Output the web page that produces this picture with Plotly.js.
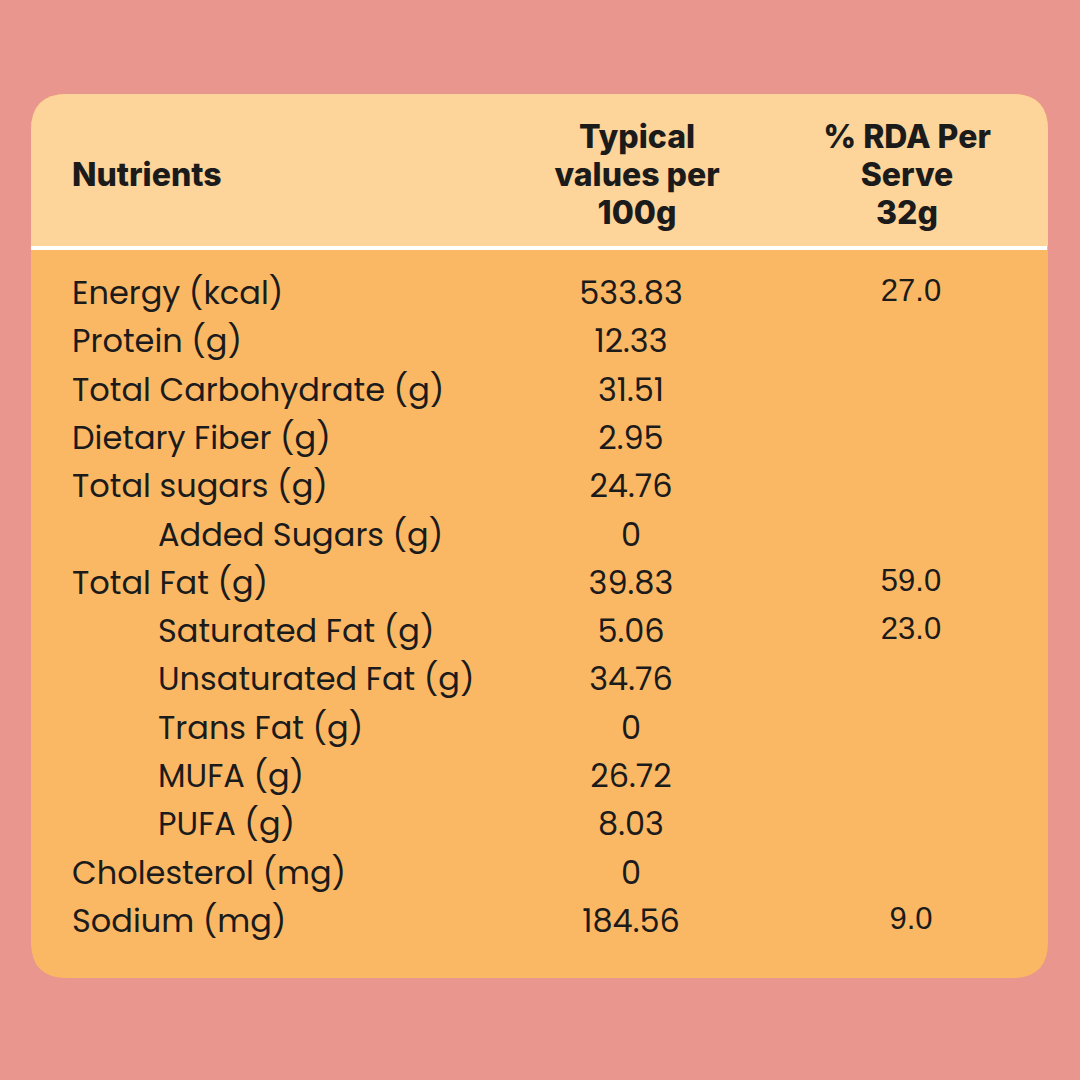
<!DOCTYPE html>
<html>
<head>
<meta charset="utf-8">
<script src="https://cdn.plot.ly/plotly-3.0.1.min.js"></script>
<style>html,body{margin:0;padding:0;background:#E9968F;}#chart{width:1080px;height:1080px;}</style>
</head>
<body>
<div id="chart"></div>
<script>
// ---- data ----
const headerNutrient = "Nutrients";
const headerTypical = ["Typical", "values per", "100g"];
const headerRDA = ["% RDA Per", "Serve", "32g"];
const nutrients = ["Energy (kcal)", "Protein (g)", "Total Carbohydrate (g)", "Dietary Fiber (g)", "Total sugars (g)", "Added Sugars (g)", "Total Fat (g)", "Saturated Fat (g)", "Unsaturated Fat (g)", "Trans Fat (g)", "MUFA (g)", "PUFA (g)", "Cholesterol (mg)", "Sodium (mg)"];
const indentLevel = [0, 0, 0, 0, 0, 1, 0, 1, 1, 1, 1, 1, 0, 0];
const typicalValues = ["533.83", "12.33", "31.51", "2.95", "24.76", "0", "39.83", "5.06", "34.76", "0", "26.72", "8.03", "0", "184.56"];
const rdaValues = ["27.0", "", "", "", "", "", "59.0", "23.0", "", "", "", "", "", "9.0"];

// ---- layout helpers ----
const W = 1080, H = 1080;
const row0 = 296, rowStep = 48.3;
const rowY = nutrients.map((_, i) => row0 + i * rowStep);
const labelX = indentLevel.map(l => l ? 158 : 72);
const colTypX = 631, colRdaX = 911;
const hdrY = [140, 178, 216];
const ink = "#1b1b1b";
const bodyFont = "Poppins, 'Open Sans', sans-serif";
const hdrFont = { family: "Inter, sans-serif", size: 32, color: ink, weight: 800 };

const traces = [
  { type: "scatter", mode: "text", x: labelX, y: rowY, text: nutrients,
    textposition: "middle right", textfont: { family: bodyFont, size: 32, color: ink },
    hoverinfo: "skip", showlegend: false },
  { type: "scatter", mode: "text", x: typicalValues.map(() => colTypX), y: rowY, text: typicalValues,
    textposition: "middle center", textfont: { family: bodyFont, size: 32, color: ink },
    hoverinfo: "skip", showlegend: false },
  { type: "scatter", mode: "text", x: rdaValues.map(() => colRdaX), y: rowY.map(v => v - 3), text: rdaValues,
    textposition: "middle center", textfont: { family: "'Liberation Sans', Arial, sans-serif", size: 31, color: ink },
    hoverinfo: "skip", showlegend: false },
  { type: "scatter", mode: "text", x: [72], y: [hdrY[1]], text: [headerNutrient],
    textposition: "middle right", textfont: hdrFont,
    hoverinfo: "skip", showlegend: false },
  { type: "scatter", mode: "text", x: headerTypical.map(() => 637), y: hdrY, text: headerTypical,
    textposition: "middle center", textfont: hdrFont,
    hoverinfo: "skip", showlegend: false },
  { type: "scatter", mode: "text", x: headerRDA.map(() => 907), y: hdrY, text: headerRDA,
    textposition: "middle center", textfont: hdrFont,
    hoverinfo: "skip", showlegend: false }
];

function roundRect(x0, y0, x1, y1, r, topOnly) {
  let p = `M${x0 + r},${y0} L${x1 - r},${y0} Q${x1},${y0} ${x1},${y0 + r} `;
  if (topOnly) {
    p += `L${x1},${y1} L${x0},${y1} `;
  } else {
    p += `L${x1},${y1 - r} Q${x1},${y1} ${x1 - r},${y1} L${x0 + r},${y1} Q${x0},${y1} ${x0},${y1 - r} `;
  }
  p += `L${x0},${y0 + r} Q${x0},${y0} ${x0 + r},${y0} Z`;
  return p;
}

const layout = {
  width: W, height: H,
  margin: { l: 0, r: 0, t: 0, b: 0 },
  paper_bgcolor: "#E9968F", plot_bgcolor: "rgba(0,0,0,0)",
  xaxis: { range: [0, W], visible: false, fixedrange: true },
  yaxis: { range: [H, 0], visible: false, fixedrange: true },
  showlegend: false,
  shapes: [
    { type: "path", path: roundRect(31, 94, 1048, 978, 36, false), fillcolor: "#FBB864", line: { width: 0 }, layer: "below" },
    { type: "path", path: roundRect(31, 94, 1048, 246, 36, true), fillcolor: "#FDD49A", line: { width: 0 }, layer: "below" },
    { type: "rect", x0: 31, x1: 1047, y0: 246, y1: 250, fillcolor: "#FFFFFF", line: { width: 0 }, layer: "below" }
  ]
};

Plotly.newPlot("chart", traces, layout, { staticPlot: true, displayModeBar: false });
</script>
</body>
</html>
